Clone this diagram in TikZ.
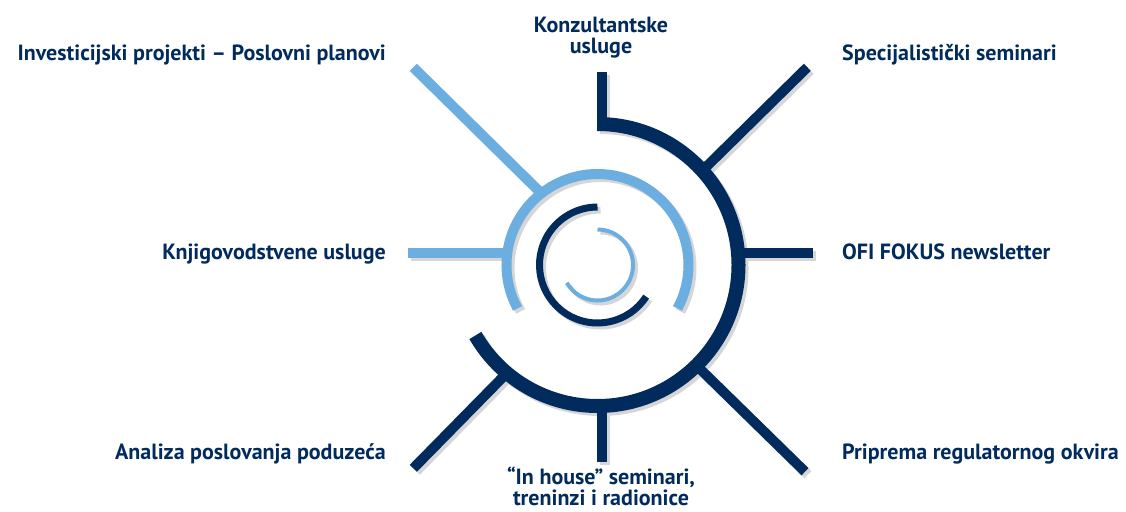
\documentclass[tikz,border=0pt]{standalone}
\usepackage{fontspec}
\setmainfont{PT Sans}
\definecolor{navy}{HTML}{002B5C}
\definecolor{sky}{HTML}{6BAEDF}

\begin{document}
\begin{tikzpicture}[x=1pt,y=-1pt,
    dark/.style={draw=\dk,line width=10pt},
    light/.style={draw=\lt,line width=10pt},
    lbl/.style={font=\bfseries\fontsize{22}{21}\selectfont,text=navy,inner sep=0pt,align=center}]
\useasboundingbox (0,0) rectangle (1126,511);
\coordinate (O) at (597.5,265);
% spokes: inner end, outer end
\coordinate (nein) at (705,168);   \coordinate (ne) at (807.3,67.3);
\coordinate (ein)  at (738,253.3); \coordinate (e)  at (813,253.3);
\coordinate (sein) at (698,367);   \coordinate (se) at (805,471.7);
\coordinate (sin)  at (601.5,400); \coordinate (s)  at (601.5,461.7);
\coordinate (swin) at (503,377);   \coordinate (sw) at (413.3,468.3);
\coordinate (win)  at (507,253.3); \coordinate (w)  at (408,253.3);
\coordinate (nwin) at (541,193);   \coordinate (nw) at (413.3,67.3);
\coordinate (nin)  at (601.5,131); \coordinate (n)  at (601.5,72);
% shadow first, then the sun itself
\foreach \sh/\dk/\lt in {3/black!16/black!16, 0/navy/sky} {
  \begin{scope}[transform canvas={shift={(\sh pt,-\sh pt)}}]
    \foreach \ray in {ne,e,se,s,sw,n}
        \draw[dark] (\ray in) -- (\ray);
    \foreach \ray in {w,nw}
        \draw[light] (\ray in) -- (\ray);
    \draw[dark,line width=14pt] ([shift={(-90:141)}]O) arc[start angle=-90,end angle=150,radius=141];
    \draw[light] ([shift={(151.5:91)}]O) arc[start angle=151.5,end angle=388.5,radius=91];
    \draw[dark,line width=7pt] ([shift={(33:58)}]O) arc[start angle=33,end angle=270,radius=58];
    \draw[light,line width=4pt] ([shift={(-90:35.5)}]O) arc[start angle=-90,end angle=150,radius=35.5];
  \end{scope}
}
% labels
\node[lbl,anchor=base east] (tnw) at (386,60) {Investicijski projekti – Poslovni planovi};
\node[lbl,anchor=north] (tn) at (601,17) {Konzultantske\\usluge};
\node[lbl,anchor=base west] (tne) at (842,60) {Specijalistički seminari};
\node[lbl,anchor=base east] (tw) at (386,259) {Knjigovodstvene usluge};
\node[lbl,anchor=base west] (te) at (842,259) {OFI FOKUS newsletter};
\node[lbl,anchor=base east] (tsw) at (386,459) {Analiza poslovanja poduzeća};
\node[lbl,anchor=north] (ts) at (601,467) {“In house” seminari,\\treninzi i radionice};
\node[lbl,anchor=base west] (tse) at (842,459) {Priprema regulatornog okvira};
\end{tikzpicture}
\end{document}
